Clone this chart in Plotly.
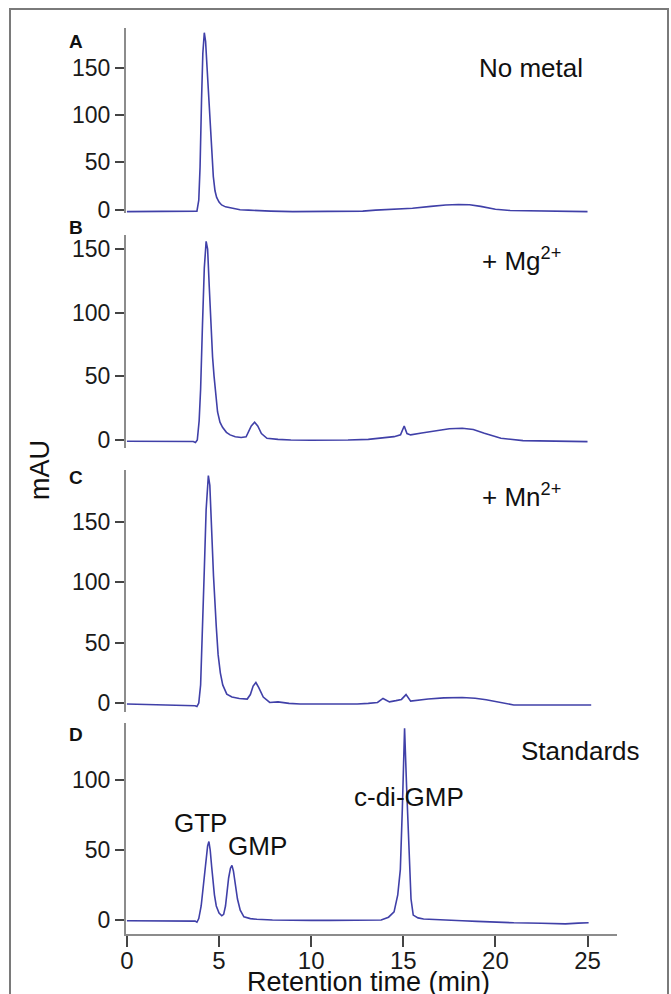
import plotly.graph_objects as go

W, H = 671, 994

# Panel A - no metal
a_time = [0.0, 1.0, 2.0, 3.0, 3.7, 3.8, 3.9, 3.97, 4.05, 4.12, 4.2, 4.27, 4.35, 4.42, 4.5,
          4.6, 4.69, 4.78, 4.87, 5.0, 5.14, 5.35, 5.6, 6.14, 6.6, 7.0, 7.8, 9, 10, 11, 12,
          12.8, 13.5, 14.5, 15.5, 16.5, 17.3, 18.0, 18.6, 19.2, 20.0, 20.8, 21.7, 22.5,
          23.5, 24.3, 25.0]
a_mau = [-2.0, -2.0, -2.2, -2.2, -2.2, -1.5, 10, 45, 116, 165, 187, 178, 150, 128, 100,
         70, 35, 20, 13, 8, 5, 3, 2, 0, -0.5, -1, -1.5, -2, -2, -2, -2,
         -1.5, -0.5, 0.3, 1.5, 3.5, 5, 5.5, 5.2, 3.5, 0.5, -0.8, -1, -1.5,
         -1.8, -2, -2]

# Panel B - + Mg2+
b_time = [0, 1, 2, 3, 3.6, 3.72, 3.82, 3.92, 4.0, 4.1, 4.2, 4.3, 4.38, 4.47, 4.56, 4.65,
          4.73, 4.82, 4.92, 5.05, 5.19, 5.4, 5.6, 5.88, 6.2, 6.47, 6.6, 6.75, 6.93, 7.1,
          7.3, 7.6, 8.2, 8.9, 10, 11, 12, 13.1, 13.8, 14.5, 14.85, 15.05, 15.2, 15.4,
          16.0, 16.7, 17.5, 18.2, 18.8, 19.4, 20.3, 21.5, 23, 25]
b_mau = [-1, -1, -1, -1, -1.2, -2, 0, 15, 40, 90, 135, 156, 150, 120, 90, 65,
         50, 35, 22, 14, 10, 6, 4, 2.6, 2, 2.5, 6, 11, 14, 11,
         5, 1.3, 0.5, 0, -0.2, -0.2, 0, 0.5, 1.5, 2.6, 4, 11, 5, 4,
         5.5, 7.3, 8.8, 9.2, 8.2, 5.2, 1.3, -0.5, -1, -1.3]

# Panel C - + Mn2+
c_time = [0, 1, 2, 3, 3.7, 3.8, 3.9, 4.0, 4.1, 4.2, 4.3, 4.42, 4.5, 4.6, 4.7, 4.85,
          4.95, 5.07, 5.2, 5.42, 5.7, 6.1, 6.53, 6.7, 6.85, 7.0, 7.15, 7.4, 7.75, 8.2,
          8.8, 9.4, 10.5, 11.5, 12.5, 13.1, 13.6, 13.9, 14.1, 14.25, 14.6, 14.9, 15.15,
          15.4, 16.35, 17.2, 18.2, 18.9, 19.5, 20.3, 21, 23, 25.2]
c_mau = [-0.8, -1.2, -2, -1.8, -2.2, -2.8, 0, 15, 55, 110, 160, 188, 180, 140, 105, 63,
         40, 25, 15, 7.4, 5, 3.8, 3.3, 7, 14, 17, 13, 5, 0.5, 1,
         -0.3, -0.8, -1, -1, -0.8, -0.3, 0.5, 3.8, 2, 1, 2, 3, 7,
         1.6, 3.3, 4.3, 4.6, 4, 2.7, 0.5, -1.6, -1.6, -1.6]

# Panel D - standards
d_time = [0, 1, 2, 3, 3.7, 3.8, 3.9, 4.03, 4.15, 4.26, 4.38, 4.45, 4.52, 4.6, 4.66, 4.75,
          4.85, 5.0, 5.15, 5.25, 5.35, 5.42, 5.52, 5.62, 5.7, 5.78, 5.88, 6.0, 6.15, 6.35,
          6.7, 7.05, 7.9, 9, 10, 11, 12, 12.86, 13.3, 13.8, 14.2, 14.5, 14.7, 14.84, 14.95,
          15.07, 15.18, 15.3, 15.42, 15.54, 15.8, 16.1, 17, 18.2, 19, 20.07, 21, 22.5,
          23.8, 24.5, 25.06]
d_mau = [-0.5, -0.5, -0.5, -0.6, -0.8, -1.6, 1, 10, 25, 40, 53, 56, 50, 38, 29, 18,
         10, 5, 3, 4, 10, 20, 30, 37, 39, 35, 27, 15, 7, 2.3,
         1, 0.5, 0, -0.3, -0.3, -0.3, -0.3, 0, -0.3, 0, 2, 5.8, 18, 36, 80,
         137, 95, 47, 15, 3.5, 1.5, 0.7, 0, -0.5, -1, -1.6, -2, -2.3,
         -2.8, -2.2, -2]

panels = [
    (a_time, a_mau, [-3.5, 192], (28, 213), [0, 50, 100, 150]),
    (b_time, b_mau, [-6.3, 161], (235, 448), [0, 50, 100, 150]),
    (c_time, c_mau, [-7.4, 192.6], (470, 712), [0, 50, 100, 150]),
    (d_time, d_mau, [-10, 140.7], (723, 934), [0, 50, 100]),
]
x_ticks = [0, 5, 10, 15, 20, 25]
x_range = [-0.05, 26.6]

line_color = '#4040a8'
axis_color = '#8c8c8c'
font_family = 'Liberation Sans, Arial, sans-serif'


def px_x(p):
    return p / W


def px_y(p):
    return 1 - p / H


fig = go.Figure()
layout = dict(
    width=W, height=H,
    margin=dict(l=0, r=0, t=0, b=0, autoexpand=False),
    paper_bgcolor='white', plot_bgcolor='white',
    showlegend=False,
    font=dict(family=font_family, color='#1a1a1a'),
)

x_domain = [px_x(126), px_x(617)]
for i, (t, v, yr, (top, bot), yticks) in enumerate(panels, start=1):
    sfx = '' if i == 1 else str(i)
    fig.add_trace(go.Scatter(x=t, y=v, mode='lines', xaxis='x' + sfx, yaxis='y' + sfx,
                             line=dict(color=line_color, width=1.6)))
    is_bottom = i == len(panels)
    layout['xaxis' + sfx] = dict(
        domain=x_domain, range=x_range, anchor='y' + sfx,
        visible=is_bottom, showgrid=False, zeroline=False, automargin=False,
        showline=True, linecolor=axis_color, linewidth=2,
        ticks='outside', ticklen=11, tickwidth=1.5, tickcolor='#444',
        tickvals=x_ticks, showticklabels=False,
    )
    layout['yaxis' + sfx] = dict(
        domain=[px_y(bot), px_y(top)], range=yr, anchor='x' + sfx,
        showgrid=False, zeroline=False, automargin=False,
        showline=True, linecolor=axis_color, linewidth=2,
        ticks='outside', ticklen=9, tickwidth=1.5, tickcolor='#444',
        tickvals=yticks, tickfont=dict(size=23, color='#1a1a1a'),
        ticklabelstandoff=0,
    )

# tick labels of the time axis, a little closer to the line than plotly puts them
fig.add_trace(go.Scatter(x=[], y=[], xaxis='x5', yaxis='y4', hoverinfo='skip'))
layout['xaxis5'] = dict(
    domain=x_domain, range=x_range, overlaying='x4', anchor='free',
    position=px_y(944), showline=False, showgrid=False, zeroline=False,
    automargin=False, ticks='', tickvals=x_ticks,
    tickfont=dict(size=24, color='#1a1a1a'),
)

fig.update_layout(**layout)


def label(text, x, y, size, bold=False, angle=0, xanchor='center'):
    fig.add_annotation(
        text='<b>%s</b>' % text if bold else text,
        x=px_x(x), y=px_y(y), xref='paper', yref='paper',
        xanchor=xanchor, yanchor='middle', showarrow=False, textangle=angle,
        font=dict(size=size, color='#111', family=font_family),
    )


# panel letters
label('A', 76, 42, 19, bold=True)
label('B', 76, 228, 19, bold=True)
label('C', 76, 478, 19, bold=True)
label('D', 76, 734, 19, bold=True)

# condition labels
label('No metal', 477, 68, 26, xanchor='left')
label('+ Mg<sup>2+</sup>', 480, 260, 26, xanchor='left')
label('+ Mn<sup>2+</sup>', 480, 495, 26, xanchor='left')
label('Standards', 519, 751, 26, xanchor='left')

# peak labels
label('GTP', 200, 823, 26)
label('GMP', 257, 846, 26)
label('c-di-GMP', 409, 797, 26)

# axis titles
label('mAU', 40, 470, 27, angle=-90)
label('Retention time (min)', 368, 982, 27)

# outer frame
fig.add_shape(type='rect', xref='paper', yref='paper',
              x0=px_x(10), x1=px_x(668), y0=-0.05, y1=px_y(9),
              line=dict(color='#7a7a7a', width=2), fillcolor='rgba(0,0,0,0)')

# drop the default page margin so the figure sits at the window corner
fig.write_html('out.html', config={'displayModeBar': False},
               post_script="document.body.style.margin='0';")
